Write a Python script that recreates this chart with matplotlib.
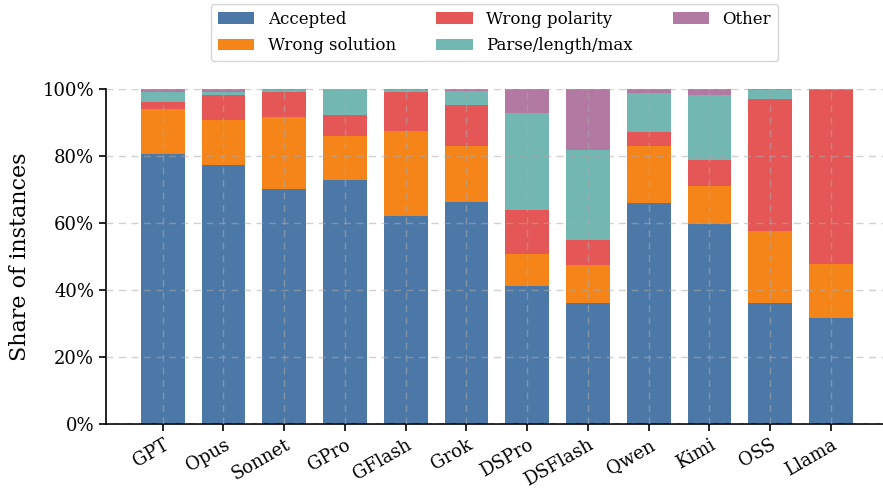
import matplotlib
matplotlib.use("Agg")
import matplotlib.pyplot as plt
import numpy as np
from matplotlib.ticker import PercentFormatter

plt.rcParams['font.family'] = ['DejaVu Serif']

models = ['GPT', 'Opus', 'Sonnet', 'GPro', 'GFlash', 'Grok',
          'DSPro', 'DSFlash', 'Qwen', 'Kimi', 'OSS', 'Llama']

# shares in percent
accepted = [80.8, 77.4, 70.2, 72.9, 62.2, 66.3, 41.2, 36.2, 66.0, 59.8, 36.2, 31.7]
wrong_solution = [13.3, 13.4, 21.5, 13.1, 25.4, 16.7, 9.6, 11.4, 17.0, 11.4, 21.5, 16.1]
wrong_polarity = [2.1, 7.5, 7.5, 6.3, 11.7, 12.3, 13.1, 7.5, 4.2, 7.8, 39.4, 52.0]
parse_len_max = [3.1, 1.0, 0.6, 7.7, 0.6, 4.2, 29.0, 26.9, 11.7, 19.4, 2.8, 0.0]
other = [0.7, 0.7, 0.2, 0.0, 0.2, 0.5, 7.1, 18.1, 1.1, 1.7, 0.1, 0.2]

series = [
    ('Accepted', accepted, '#4c78a8'),
    ('Wrong solution', wrong_solution, '#f58518'),
    ('Wrong polarity', wrong_polarity, '#e45756'),
    ('Parse/length/max', parse_len_max, '#72b7b2'),
    ('Other', other, '#b279a2'),
]

fig = plt.figure(figsize=(8.83, 4.98), dpi=100)
ax = fig.add_axes([0.12, 0.1486, 0.88, 0.672])

x = np.arange(len(models))
bottom = np.zeros(len(models))
for name, vals, col in series:
    v = np.array(vals) / 100.0
    ax.bar(x, v, 0.72, bottom=bottom, color=col, label=name, zorder=1)
    bottom += v

ax.set_ylim(0, 1)
ax.set_xlim(-0.934, 11.857)
ax.yaxis.set_major_formatter(PercentFormatter(1.0, decimals=0))
ax.set_xticks(x)
ax.set_xticklabels(models, rotation=30, ha='right', rotation_mode='anchor')
ax.tick_params(labelsize=13, length=5, width=1.2)
ax.set_ylabel('Share of instances', fontsize=16, labelpad=8)

ax.grid(True, linestyle=(0, (5, 4)), color='#aaaaaa', alpha=0.55, linewidth=1.0, zorder=2)
ax.set_axisbelow(False)
for s in ['top', 'right']:
    ax.spines[s].set_visible(False)
for s in ['left', 'bottom']:
    ax.spines[s].set_linewidth(1.2)

ax.legend(loc='lower center', bbox_to_anchor=(0.5, 1.075), ncol=3, fontsize=12,
          frameon=True, edgecolor='#cccccc', handlelength=2.2, columnspacing=2.4,
          borderaxespad=0.2, labelspacing=0.55)

fig.savefig('out.png', dpi=100)
